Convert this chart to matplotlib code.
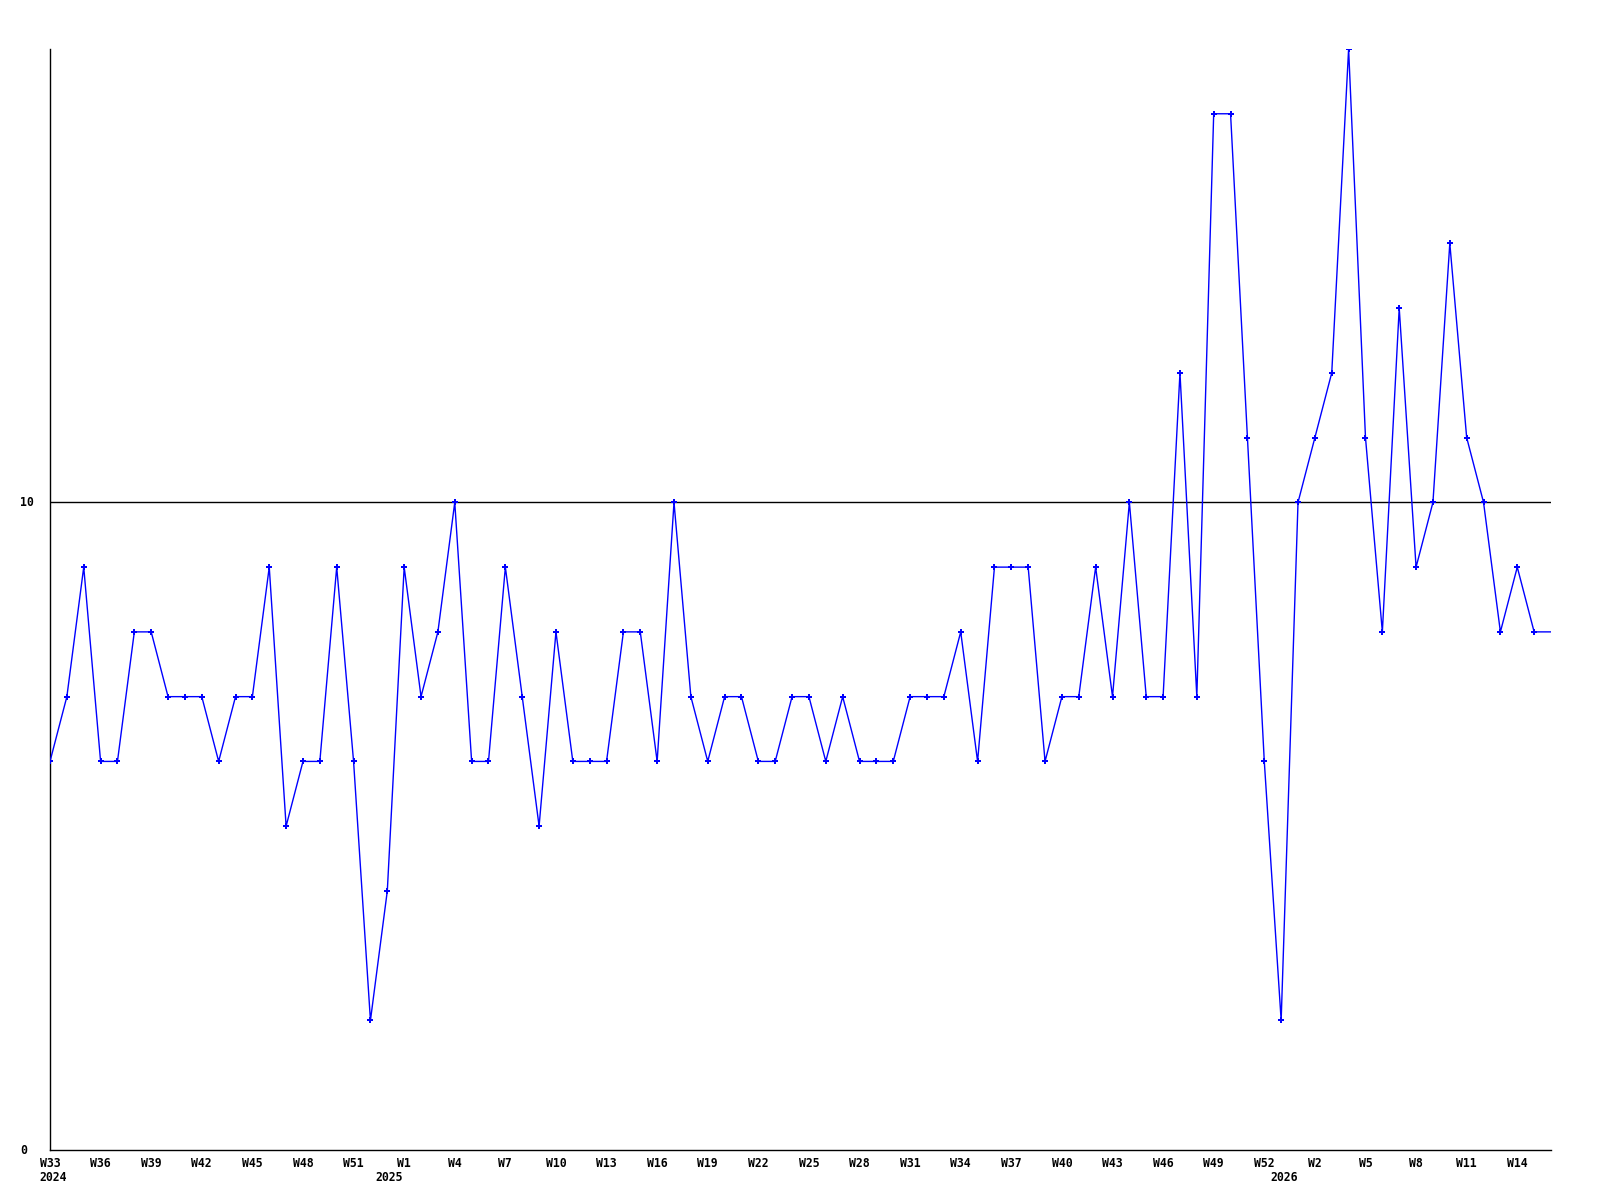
import numpy as np
import matplotlib
matplotlib.use("Agg")
import matplotlib.pyplot as plt

# weekly values, W33 2024 .. W16 2026
values = [6, 7, 9, 6, 6, 8, 8, 7, 7, 7,
          6, 7, 7, 9, 5, 6, 6, 9, 6, 2,
          4, 9, 7, 8, 10, 6, 6, 9, 7, 5,
          8, 6, 6, 6, 8, 8, 6, 10, 7, 6,
          7, 7, 6, 6, 7, 7, 6, 7, 6, 6,
          6, 7, 7, 7, 8, 6, 9, 9, 9, 6,
          7, 7, 9, 7, 10, 7, 7, 12, 7, 16,
          16, 11, 6, 2, 10, 11, 12, 17, 11, 8,
          13, 9, 10, 14, 11, 10, 8, 9, 8, 8]

week_labels = ["W33", "W36", "W39", "W42", "W45", "W48", "W51",
               "W1", "W4", "W7", "W10", "W13", "W16", "W19", "W22",
               "W25", "W28", "W31", "W34", "W37", "W40", "W43", "W46",
               "W49", "W52", "W2", "W5", "W8", "W11", "W14"]
year_labels = ["2024", "2025", "2026"]
year_pos = [0.2, 20.1, 73.2]

ref_level = 10
ymax = 17

font = dict(family="DejaVu Sans Mono", fontweight="bold", fontsize=8.3)

fig = plt.figure(figsize=(16, 12), dpi=100)
ax = fig.add_axes([50 / 1600, 50 / 1200, 1501 / 1600, 1101 / 1200])

x = np.arange(len(values))
ax.plot(x, values, color="#0000ff", linewidth=1.0, marker="P", markersize=4.5,
        markeredgewidth=0, markevery=list(range(len(values) - 1)), zorder=3)
ax.axhline(ref_level, color="black", linewidth=1.0, zorder=2)

ax.set_xlim(0, len(values) - 1)
ax.set_ylim(0, ymax)

for side in ["top", "right"]:
    ax.spines[side].set_visible(False)
for side in ["left", "bottom"]:
    ax.spines[side].set_linewidth(1.0)
    ax.spines[side].set_color("black")

ax.set_xticks(np.arange(0, len(values), 3))
ax.set_xticklabels(week_labels, **font)
ax.tick_params(axis="x", length=0, pad=5)
ax.set_yticks([])

for lab, pos in zip(year_labels, year_pos):
    ax.annotate(lab, xy=(pos, 0), xycoords=("data", "axes fraction"),
                xytext=(0, -19.5), textcoords="offset points",
                ha="center", va="center", **font)

for yv in [0, ref_level]:
    ax.annotate(str(yv), xy=(0, yv), xycoords=("axes fraction", "data"),
                xytext=(-21.6, 0), textcoords="offset points",
                ha="left", va="center", **font)

fig.savefig("out.png", dpi=100)
